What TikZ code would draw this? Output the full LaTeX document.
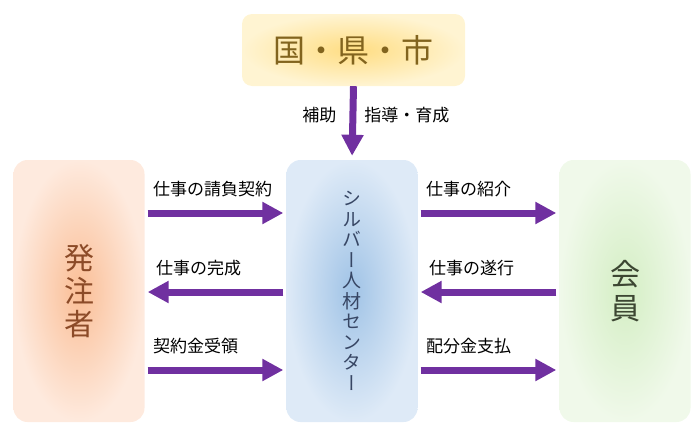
\documentclass[tikz,border=0pt]{standalone}
\usepackage{fontspec}
\setmainfont{Noto Sans CJK JP}
\newfontfamily\vertjp[RawFeature=+vert]{Noto Sans CJK JP}
\usetikzlibrary{arrows.meta, positioning, calc}
\definecolor{flowpurple}{RGB}{112, 48, 160}
\definecolor{govin}{RGB}{255, 221, 130}
\definecolor{govout}{RGB}{255, 244, 210}
\definecolor{govtext}{RGB}{130, 100, 30}
\definecolor{clientin}{RGB}{250, 190, 150}
\definecolor{clientout}{RGB}{254, 234, 222}
\definecolor{clienttext}{RGB}{140, 75, 40}
\definecolor{centerin}{RGB}{160, 195, 230}
\definecolor{centerout}{RGB}{222, 234, 247}
\definecolor{centertext}{RGB}{55, 70, 100}
\definecolor{memberin}{RGB}{212, 238, 196}
\definecolor{memberout}{RGB}{240, 249, 234}
\definecolor{membertext}{RGB}{60, 70, 50}

\tikzset{
  box/.style={shade, rounded corners=14pt, minimum width=131pt, minimum height=262pt,
    inner sep=0pt, align=center},
  flow/.style={draw=flowpurple, line width=7pt, -{Triangle[length=21pt, width=21pt]},
    shorten <=3pt, shorten >=3pt},
  lbl/.style={font=\fontsize{17}{17}\selectfont, inner sep=0pt},
}

\begin{document}
\begin{tikzpicture}[x=1pt, y=-1pt]
  \useasboundingbox (0, 0) rectangle (700, 434);

  % Boxes
  \node[box, minimum width=223pt, minimum height=72pt, rounded corners=10pt,
    inner color=govin, outer color=govout, text=govtext,
    font=\fontsize{32}{32}\selectfont] (gov) at (353.5, 50) {国・県・市};
  \node[box, inner color=clientin, outer color=clientout, text=clienttext,
    font=\fontsize{30}{33}\selectfont] (client) at (79, 291) {発\\注\\者};
  \node[box, inner color=centerin, outer color=centerout, text=centertext,
    font=\vertjp\fontsize{19}{20.5}\selectfont] (center) at (352, 291)
    {シ\\ル\\バ\\ー\\人\\材\\セ\\ン\\タ\\ー};
  \node[box, inner color=memberin, outer color=memberout, text=membertext,
    font=\fontsize{30}{34}\selectfont] (member) at (625, 291) {会\\員};

  % Government support
  \draw[flow, shorten <=0pt, shorten >=4pt] (gov.south) -- (center.north)
    node[lbl, pos=0.39, anchor=east, xshift=-13pt] {補助}
    node[lbl, pos=0.39, anchor=west, xshift=8pt] {指導・育成};

  % Client side
  \draw[flow] ([yshift=78pt]client.east) -- ([yshift=78pt]center.west)
    node[lbl, pos=0, anchor=south west, xshift=5pt, yshift=13pt] {仕事の請負契約};
  \draw[flow] ([yshift=-1pt]center.west) -- ([yshift=-1pt]client.east)
    node[lbl, pos=1, anchor=south west, xshift=8pt, yshift=13pt] {仕事の完成};
  \draw[flow] ([yshift=-79pt]client.east) -- ([yshift=-79pt]center.west)
    node[lbl, pos=0, anchor=south west, xshift=5pt, yshift=13pt] {契約金受領};

  % Member side
  \draw[flow] ([yshift=78pt]center.east) -- ([yshift=78pt]member.west)
    node[lbl, pos=0, anchor=south west, xshift=5pt, yshift=13pt] {仕事の紹介};
  \draw[flow] ([yshift=-1pt]member.west) -- ([yshift=-1pt]center.east)
    node[lbl, pos=1, anchor=south west, xshift=8pt, yshift=13pt] {仕事の遂行};
  \draw[flow] ([yshift=-79pt]center.east) -- ([yshift=-79pt]member.west)
    node[lbl, pos=0, anchor=south west, xshift=5pt, yshift=13pt] {配分金支払};
\end{tikzpicture}
\end{document}
